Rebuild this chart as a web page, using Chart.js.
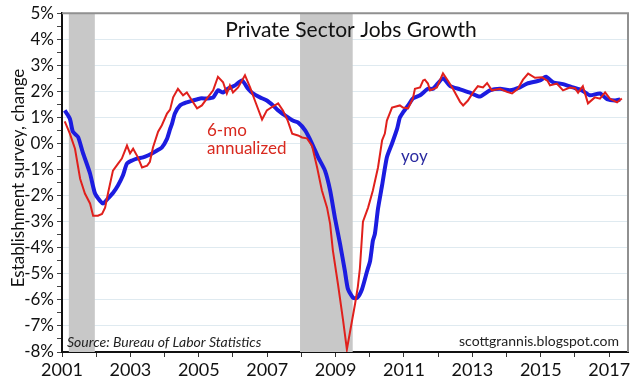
<!DOCTYPE html>
<html><head><meta charset="utf-8">
<script src="https://cdn.jsdelivr.net/npm/chart.js@4"></script>
<style>html,body{margin:0;padding:0;background:#fff}canvas{display:block}</style>
</head><body><canvas id="c" width="640" height="387"></canvas>
<script>
// ---- data ----
const yoyDates = [2001.08,2001.23,2001.32,2001.47,2001.61,2001.82,2001.96,2002.11,2002.2,2002.35,2002.49,2002.64,2002.78,2002.9,2003.05,2003.19,2003.37,2003.51,2003.63,2003.78,2003.92,2004.07,2004.16,2004.22,2004.3,2004.45,2004.65,2004.83,2005.04,2005.24,2005.42,2005.56,2005.71,2005.85,2006.06,2006.26,2006.44,2006.58,2006.79,2006.99,2007.17,2007.32,2007.52,2007.75,2007.9,2008.11,2008.31,2008.49,2008.69,2008.84,2008.98,2009.13,2009.27,2009.36,2009.51,2009.63,2009.77,2009.92,2010.01,2010.09,2010.15,2010.24,2010.36,2010.5,2010.65,2010.8,2010.88,2010.97,2011.12,2011.26,2011.47,2011.7,2011.85,2012.14,2012.35,2012.64,2012.93,2013.22,2013.51,2013.81,2014.1,2014.39,2014.6,2014.98,2015.15,2015.36,2015.65,2015.94,2016.2,2016.44,2016.73,2016.94,2017.17,2017.32];
const yoyValues = [1.27,0.95,0.45,0.25,-0.35,-1.15,-1.9,-2.2,-2.3,-2.1,-1.9,-1.6,-1.23,-0.77,-0.65,-0.58,-0.53,-0.46,-0.38,-0.27,-0.15,0.18,0.55,0.77,1.15,1.46,1.58,1.65,1.73,1.73,1.77,2.04,1.96,2.1,2.23,2.42,2.1,1.92,1.77,1.65,1.46,1.27,1.08,0.88,0.81,0.5,0.0,-0.53,-1.04,-1.8,-2.85,-3.85,-4.88,-5.58,-5.92,-5.92,-5.6,-4.9,-4.5,-3.73,-3.46,-2.5,-1.6,-0.53,0.0,0.57,1.0,1.19,1.46,1.73,1.85,2.1,2.1,2.5,2.2,2.08,1.95,1.8,2.04,2.1,2.04,2.15,2.3,2.42,2.56,2.35,2.28,2.15,2.04,1.85,1.92,1.7,1.65,1.69];

const sixMoDates = [2001.08,2001.23,2001.38,2001.53,2001.67,2001.82,2001.91,2002.05,2002.17,2002.26,2002.35,2002.49,2002.64,2002.75,2002.9,2002.99,2003.08,2003.22,2003.34,2003.49,2003.57,2003.66,2003.81,2003.92,2004.07,2004.16,2004.25,2004.39,2004.54,2004.65,2004.8,2004.95,2005.09,2005.24,2005.42,2005.56,2005.71,2005.82,2005.91,2006.0,2006.15,2006.35,2006.5,2006.64,2006.85,2006.99,2007.14,2007.32,2007.46,2007.6,2007.73,2007.9,2008.02,2008.16,2008.31,2008.46,2008.6,2008.75,2008.84,2008.92,2009.07,2009.22,2009.33,2009.48,2009.57,2009.65,2009.71,2009.8,2009.95,2010.09,2010.24,2010.36,2010.44,2010.5,2010.65,2010.88,2010.97,2011.12,2011.26,2011.32,2011.47,2011.56,2011.61,2011.7,2011.76,2011.96,2012.14,2012.29,2012.43,2012.64,2012.73,2012.87,2013.02,2013.16,2013.31,2013.43,2013.57,2013.81,2014.01,2014.16,2014.33,2014.48,2014.63,2014.83,2015.04,2015.2,2015.27,2015.47,2015.65,2015.85,2016.0,2016.09,2016.23,2016.38,2016.58,2016.73,2016.88,2017.02,2017.23,2017.37];
const sixMoValues = [0.85,0.38,-0.2,-1.35,-1.92,-2.3,-2.77,-2.77,-2.7,-2.46,-1.88,-1.04,-0.77,-0.58,-0.08,-0.38,-0.2,-0.53,-0.92,-0.85,-0.7,-0.15,0.45,0.7,1.15,1.3,1.77,2.1,1.85,1.96,1.65,1.35,1.46,1.73,2.04,2.56,2.35,1.92,2.23,1.96,2.15,2.62,2.15,1.65,0.92,1.27,1.4,1.54,1.27,0.88,0.38,0.31,0.23,0.2,-0.08,-0.92,-1.8,-2.46,-3.08,-4.1,-5.4,-6.8,-7.9,-6.8,-6.15,-5.5,-4.8,-3.0,-2.46,-1.8,-0.92,0.12,0.38,0.88,1.38,1.46,1.38,1.35,1.73,2.1,2.15,2.42,2.45,2.3,2.04,2.15,2.69,2.4,2.1,1.6,1.46,1.65,1.96,2.2,2.15,2.32,2.04,2.1,1.98,1.92,2.1,2.45,2.68,2.52,2.54,2.4,2.23,2.3,2.04,2.15,2.12,1.95,2.2,1.54,1.77,1.72,1.96,1.72,1.58,1.73];

const recessionStarts = [2001.2, 2007.96];
const recessionEnds = [2001.96, 2009.5];
const xTickLabelYears = [2001,2003,2005,2007,2009,2011,2013,2015,2017];
const xMin = 2001, xMax = 2017.55;
const yMin = -8, yMax = 5;

const FONT = "Lato, 'Noto Sans', sans-serif";
const toPts = (xs, ys) => xs.map((x, i) => ({x, y: ys[i]}));

const decor = {
  id: 'decor',
  beforeDatasetsDraw(chart) {
    const {ctx, chartArea: a, scales: {x}} = chart;
    ctx.save();
    ctx.fillStyle = '#c8c8c8';
    recessionStarts.forEach((s, i) => {
      const x0 = x.getPixelForValue(s), x1 = x.getPixelForValue(recessionEnds[i]);
      ctx.fillRect(x0, a.top, x1 - x0, a.bottom - a.top);
    });
    ctx.restore();
  },
  afterDraw(chart) {
    const {ctx, chartArea: a} = chart;
    ctx.save();
    ctx.strokeStyle = '#909090';
    ctx.lineWidth = 2;
    ctx.beginPath();
    ctx.moveTo(a.left, a.top); ctx.lineTo(a.right, a.top); ctx.lineTo(a.right, a.bottom);
    ctx.stroke();
    // title
    ctx.fillStyle = '#111';
    ctx.textAlign = 'center'; ctx.textBaseline = 'alphabetic';
    ctx.font = `21px ${FONT}`;
    ctx.fillText('Private Sector Jobs Growth', 351, 37);
    // series labels
    ctx.textAlign = 'left';
    ctx.fillStyle = '#d8291f';
    ctx.font = `17px ${FONT}`;
    ctx.fillText('6-mo', 207, 136);
    ctx.fillText('annualized', 207, 154);
    ctx.fillStyle = '#2a2aa0';
    ctx.fillText('yoy', 401, 162);
    // source / credit
    ctx.fillStyle = '#222';
    ctx.font = `italic 14px ${FONT}`;
    ctx.fillText('Source: Bureau of Labor Statistics', 67, 347);
    ctx.font = `14px ${FONT}`;
    ctx.textAlign = 'right';
    ctx.fillText('scottgrannis.blogspot.com', 619, 346);
    // y axis title
    ctx.translate(19, 178);
    ctx.rotate(-Math.PI / 2);
    ctx.textAlign = 'center'; ctx.textBaseline = 'middle';
    ctx.fillStyle = '#111';
    ctx.font = `17px ${FONT}`;
    ctx.fillText('Establishment survey, change', 0, 0);
    ctx.restore();
  }
};

new Chart(document.getElementById('c'), {
  type: 'line',
  data: {
    datasets: [
      {label: '6-mo annualized', data: toPts(sixMoDates, sixMoValues), borderColor: '#e0201c', borderWidth: 2, pointRadius: 0, tension: 0, order: 1},
      {label: 'yoy', data: toPts(yoyDates, yoyValues), borderColor: '#1c1ce0', borderWidth: 4, pointRadius: 0, tension: 0.2, order: 2}
    ]
  },
  options: {
    responsive: false, animation: false, devicePixelRatio: 1,
    layout: {padding: {top: 13, right: 12, left: 0, bottom: 0}},
    plugins: {legend: {display: false}, tooltip: {enabled: false}, title: {display: false}},
    scales: {
      x: {
        type: 'linear', min: xMin, max: xMax,
        afterFit(s) { s.height = 35; },
        afterBuildTicks(s) {
          const t = [];
          for (let v = Math.ceil(xMin); v <= xMax; v++) t.push({value: v});
          s.ticks = t;
        },
        ticks: {autoSkip: false, maxRotation: 0, padding: 2, color: '#111',
          font: {family: FONT, size: 18},
          callback: v => xTickLabelYears.includes(v) ? String(v) : ''},
        grid: {drawOnChartArea: false, tickLength: 5, tickWidth: 1, tickColor: '#333'},
        border: {color: '#111', width: 2}
      },
      y: {
        min: yMin, max: yMax,
        afterFit(s) { s.width = 62; },
        ticks: {stepSize: 0.5, autoSkip: false, padding: 3, color: '#111',
          font: {family: FONT, size: 17},
          callback: v => Number.isInteger(v) ? v + '%' : ''},
        grid: {tickLength: 5, tickWidth: 1,
          color: c => (Number.isInteger(c.tick.value) && c.tick.value > yMin && c.tick.value < yMax) ? '#dfeaf0' : 'transparent',
          tickColor: '#444'},
        border: {color: '#111', width: 2}
      }
    }
  },
  plugins: [decor]
});
</script>
</body></html>
